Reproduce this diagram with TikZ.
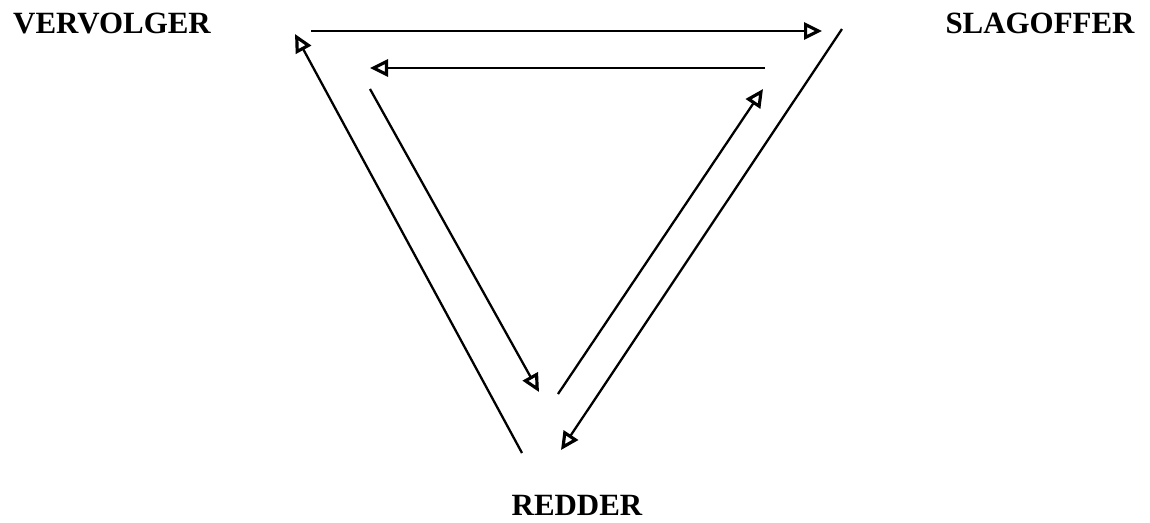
\documentclass[tikz,border=0pt]{standalone}
\usepackage{fontspec}
\setmainfont{Liberation Serif}
\usetikzlibrary{arrows.meta}

\begin{document}
\begin{tikzpicture}[
    x=0.02cm, y=-0.02cm,
    role/.style={font=\bfseries\fontsize{17.6}{20}\selectfont, inner sep=0pt},
    arrow/.style={-{Triangle[open, length=0.36cm, width=0.34cm, line width=1.8pt]}, line width=1.3pt}
]
\useasboundingbox (0,0) rectangle (1150,522);

% Roles
\node (vervolger) [role] at (112,23) {VERVOLGER};
\node (slagoffer) [role] at (1040,23) {SLAGOFFER};
\node (redder) [role] at (577,505) {REDDER};

% Arrow ends
\coordinate (vsTop) at (311,31);
\coordinate (slTop) at (822,31);
\coordinate (slMid) at (765,68);
\coordinate (vsMid) at (370,68);
\coordinate (reOutL) at (522,453);
\coordinate (vsOut) at (295,34);
\coordinate (vsIn) at (370,89);
\coordinate (reInL) at (539,392);
\coordinate (reInR) at (558,394);
\coordinate (slIn) at (763,89);
\coordinate (slOut) at (842,29);
\coordinate (reOutR) at (561,450);

% Arrows
\draw[arrow] (vsTop) -- (slTop);
\draw[arrow] (slMid) -- (vsMid);
\draw[arrow] (reOutL) -- (vsOut);
\draw[arrow] (vsIn) -- (reInL);
\draw[arrow] (reInR) -- (slIn);
\draw[arrow] (slOut) -- (reOutR);

\end{tikzpicture}
\end{document}
